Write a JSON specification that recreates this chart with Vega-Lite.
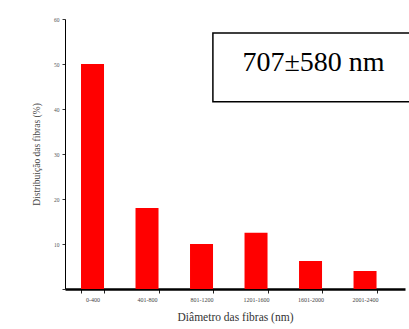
{
  "$schema": "https://vega.github.io/schema/vega-lite/v6.json",
  "width": 340,
  "height": 270,
  "autosize": {"type": "none"},
  "padding": {"left": 65, "top": 19, "right": 4, "bottom": 40},
  "background": "white",
  "config": {"view": {"stroke": null}},
  "data": {
    "values": [
      {"range": "0-400", "pct": 50},
      {"range": "401-800", "pct": 18},
      {"range": "801-1200", "pct": 10},
      {"range": "1201-1600", "pct": 12.5},
      {"range": "1601-2000", "pct": 6.2},
      {"range": "2001-2400", "pct": 4}
    ]
  },
  "layer": [
    {
      "mark": {"type": "bar", "color": "#ff0000"},
      "encoding": {
        "x": {
          "field": "range", "type": "ordinal", "sort": null,
          "scale": {"paddingInner": 0.578, "paddingOuter": 0.408, "align": 0.36},
          "axis": {
            "title": "Diâmetro das fibras (nm)",
            "titleFont": "Liberation Serif", "titleFontSize": 11.5, "titleFontWeight": "normal", "titleColor": "#333",
            "titlePadding": 9,
            "labelFont": "Liberation Serif", "labelFontSize": 6, "labelColor": "#444", "labelAngle": 0,
            "labelPadding": 3,
            "tickBand": "extent", "tickSize": 4, "tickColor": "#222", "tickWidth": 1,
            "domainColor": "#000", "domainWidth": 2.5
          }
        },
        "y": {
          "field": "pct", "type": "quantitative",
          "scale": {"domain": [0, 60], "nice": false},
          "axis": {
            "title": "Distribuição das fibras (%)",
            "titleFont": "Liberation Serif", "titleFontSize": 9.5, "titleFontWeight": "normal", "titleColor": "#444",
            "titlePadding": 12,
            "values": [0, 5, 10, 15, 20, 25, 30, 35, 40, 45, 50, 55, 60],
            "labelExpr": "datum.value % 10 == 0 && datum.value > 0 ? datum.label : ''",
            "labelFont": "Liberation Serif", "labelFontSize": 5.5, "labelColor": "#555",
            "labelPadding": 3,
            "tickSize": 3, "tickColor": "#333",
            "grid": false,
            "domainColor": "#000", "domainWidth": 1
          }
        }
      }
    },
    {
      "data": {"values": [{"note": "707±580 nm"}]},
      "mark": {"type": "rect", "fill": "white", "stroke": "#000", "strokeWidth": 1.5},
      "encoding": {
        "x": {"datum": 43.5, "type": "quantitative", "scale": {"domain": [0, 100]}, "axis": null},
        "x2": {"datum": 105},
        "y": {"datum": 56.9, "type": "quantitative"},
        "y2": {"datum": 41.6}
      }
    },
    {
      "data": {"values": [{"note": "707±580 nm"}]},
      "mark": {"type": "text", "font": "Liberation Serif", "fontSize": 28, "color": "#000", "align": "center", "baseline": "middle"},
      "encoding": {
        "text": {"field": "note"},
        "x": {"datum": 73.1, "type": "quantitative", "scale": {"domain": [0, 100]}, "axis": null},
        "y": {"datum": 50.3, "type": "quantitative"}
      }
    }
  ],
  "resolve": {"scale": {"x": "independent"}}
}
